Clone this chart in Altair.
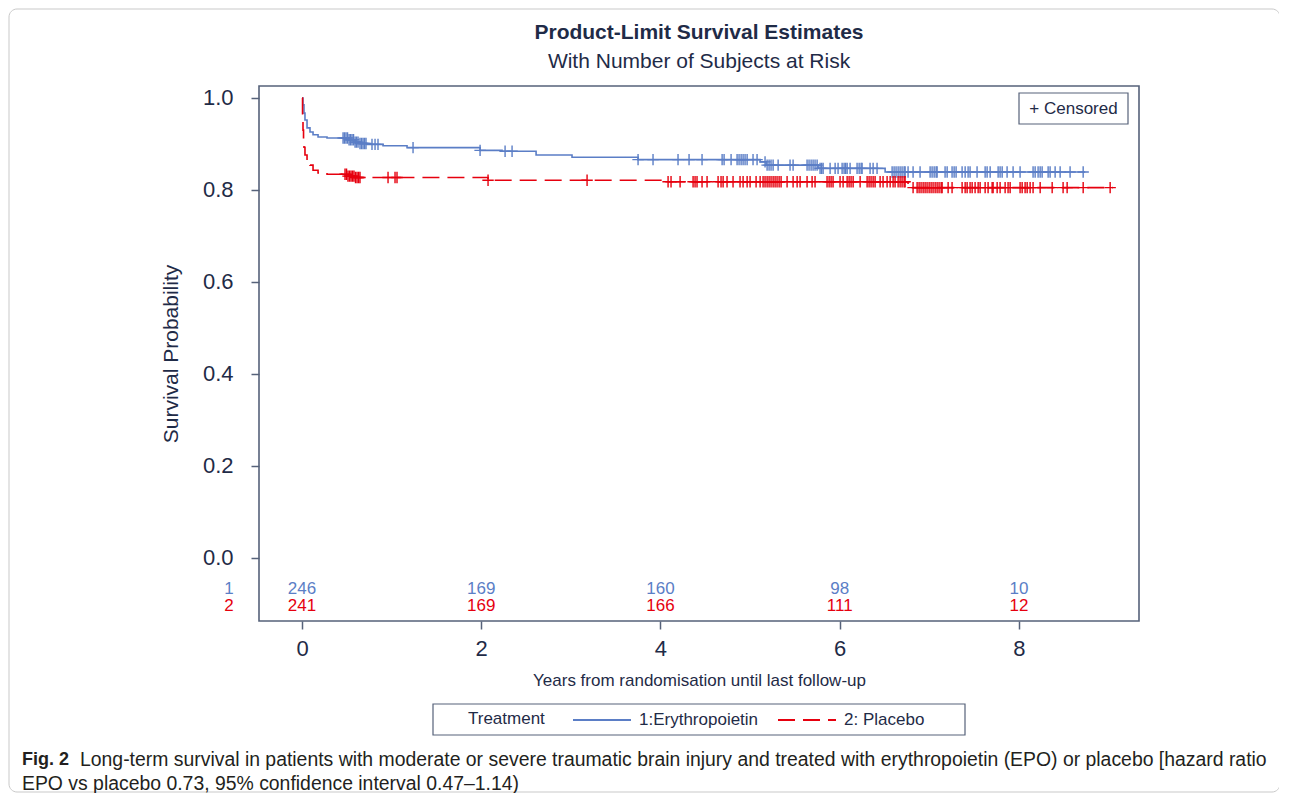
import altair as alt
import pandas as pd

FONT = "Liberation Sans"
NAVY = "#1f2b47"
FRAME = "#56627a"
BLUE = "#5b7ec6"
RED = "#e6000e"

arms = ["1:Erythropoietin", "2: Placebo"]

# Kaplan-Meier step estimates (years, survival probability)
epo_t = [0.0, 0.011, 0.022, 0.033, 0.056, 0.089, 0.123, 0.179, 0.279, 0.513, 0.592,
         0.647, 0.725, 0.904, 1.172, 1.987, 2.232, 2.612, 3.013, 3.750, 5.112, 5.179,
         5.759, 6.507]
epo_s = [1.0, 0.985, 0.967, 0.952, 0.935, 0.926, 0.920, 0.915, 0.913, 0.909, 0.904,
         0.901, 0.899, 0.896, 0.892, 0.886, 0.884, 0.876, 0.871, 0.866, 0.861, 0.854,
         0.847, 0.839]
epo_end = 8.74
epo_cens = [0.458, 0.474, 0.491, 0.508, 0.525, 0.541, 0.558, 0.575, 0.592, 0.608, 0.625,
            0.647, 0.664, 0.681, 0.698, 0.714, 0.781, 0.815, 0.848, 1.239, 1.987, 2.266,
            2.344, 3.750, 3.917, 4.196, 4.319, 4.464, 4.688, 4.710, 4.788, 4.855, 4.877,
            4.900, 4.922, 4.944, 4.967, 5.033, 5.078, 5.167, 5.190, 5.212, 5.234, 5.257,
            5.313, 5.446, 5.480, 5.636, 5.658, 5.681, 5.703, 5.725, 5.748, 5.781, 5.798,
            5.815, 5.893, 5.949, 5.982, 6.027, 6.049, 6.066, 6.083, 6.116, 6.194, 6.217,
            6.239, 6.250, 6.339, 6.373, 6.417, 6.585, 6.607, 6.629, 6.652, 6.674, 6.696,
            6.719, 6.730, 6.763, 6.819, 6.897, 7.009, 7.031, 7.054, 7.076, 7.087, 7.176,
            7.199, 7.254, 7.277, 7.299, 7.366, 7.400, 7.433, 7.455, 7.533, 7.623, 7.645,
            7.679, 7.768, 7.790, 7.813, 7.868, 7.935, 8.013, 8.158, 8.181, 8.214, 8.237,
            8.259, 8.326, 8.348, 8.404, 8.460, 8.571, 8.717]

pla_t = [0.0, 0.006, 0.011, 0.017, 0.022, 0.033, 0.056, 0.089, 0.123, 0.179, 0.279,
         0.513, 0.592, 2.076, 4.029, 6.763]
pla_s = [1.0, 0.963, 0.930, 0.909, 0.893, 0.876, 0.865, 0.854, 0.843, 0.837, 0.834,
         0.830, 0.827, 0.821, 0.818, 0.805]
pla_end = 9.05
pla_cens = [0.480, 0.497, 0.513, 0.530, 0.547, 0.564, 0.580, 0.597, 0.614, 0.631, 0.647,
            0.960, 1.038, 1.060, 2.076, 3.181, 4.085, 4.118, 4.219, 4.364, 4.386, 4.408,
            4.464, 4.520, 4.643, 4.676, 4.699, 4.743, 4.810, 4.888, 4.922, 4.967, 5.000,
            5.067, 5.112, 5.145, 5.167, 5.190, 5.212, 5.234, 5.257, 5.279, 5.301, 5.324,
            5.346, 5.413, 5.480, 5.525, 5.558, 5.636, 5.692, 5.725, 5.859, 5.882, 5.904,
            5.926, 6.004, 6.038, 6.083, 6.105, 6.127, 6.150, 6.228, 6.306, 6.328, 6.350,
            6.373, 6.395, 6.451, 6.484, 6.529, 6.563, 6.596, 6.618, 6.652, 6.674, 6.696,
            6.719, 6.730, 6.819, 6.864, 6.886, 6.908, 6.931, 6.953, 6.975, 6.998, 7.020,
            7.042, 7.065, 7.087, 7.109, 7.132, 7.143, 7.210, 7.254, 7.366, 7.400, 7.422,
            7.455, 7.478, 7.511, 7.545, 7.567, 7.623, 7.656, 7.701, 7.712, 7.757, 7.790,
            7.846, 7.879, 7.902, 8.013, 8.036, 8.069, 8.092, 8.125, 8.158, 8.237, 8.371,
            8.493, 8.538, 8.717, 9.018]

risk_times = [0, 2, 4, 6, 8]
epo_risk = [246, 169, 160, 98, 10]
pla_risk = [241, 169, 166, 111, 12]

title_text = "Product-Limit Survival Estimates"
subtitle_text = "With Number of Subjects at Risk"
legend_title = "Treatment"
caption_bold = "Fig. 2"
caption_line1 = ("Long-term survival in patients with moderate or severe traumatic brain injury "
                 "and treated with erythropoietin (EPO) or placebo [hazard ratio")
caption_line2 = "EPO vs placebo 0.73, 95% confidence interval 0.47\u20131.14)"


def step_rows(arm, ts, ss, end):
    rows = [{"arm": arm, "t": t, "s": s} for t, s in zip(ts, ss)]
    rows.append({"arm": arm, "t": end, "s": ss[-1]})
    return rows


def surv_at(ts, ss, c):
    val = ss[0]
    for t, s in zip(ts, ss):
        if t <= c:
            val = s
        else:
            break
    return val


line_df = pd.DataFrame(step_rows(arms[0], epo_t, epo_s, epo_end) +
                       step_rows(arms[1], pla_t, pla_s, pla_end))

cens_rows = [{"t": c, "s": surv_at(epo_t, epo_s, c), "col": BLUE} for c in epo_cens]
cens_rows += [{"t": c, "s": surv_at(pla_t, pla_s, c), "col": RED} for c in pla_cens]
cens_df = pd.DataFrame(cens_rows)

risk1 = pd.DataFrame({"t": risk_times, "n": [str(v) for v in epo_risk]})
risk2 = pd.DataFrame({"t": risk_times, "n": [str(v) for v in pla_risk]})
one = pd.DataFrame({"k": [0]})

W, H = 880, 535
xscale = alt.Scale(domain=[-0.48, 9.34], nice=False, zero=False)
yscale = alt.Scale(domain=[-0.137, 1.026], nice=False, zero=False)

xaxis = alt.Axis(values=risk_times, format="d", title="Years from randomisation until last follow-up",
                 labelFontSize=22, titleFontSize=17, labelPadding=9, titlePadding=13)
yaxis = alt.Axis(values=[0.0, 0.2, 0.4, 0.6, 0.8, 1.0], format=".1f", title="Survival Probability",
                 labelFontSize=22, titleFontSize=21, labelPadding=18, titlePadding=21)

leg = alt.Legend(title=None, orient="none", legendX=313, legendY=604,
                 direction="horizontal", padding=0,
                 symbolType="stroke", symbolSize=3364, symbolStrokeWidth=2,
                 labelFontSize=17, labelColor=NAVY, labelFont=FONT,
                 labelOffset=7, columnPadding=15)

lines = alt.Chart(line_df).mark_line(interpolate="step-after", strokeWidth=1.6).encode(
    x=alt.X("t:Q", scale=xscale, axis=xaxis),
    y=alt.Y("s:Q", scale=yscale, axis=yaxis),
    color=alt.Color("arm:N", scale=alt.Scale(domain=arms, range=[BLUE, RED]), legend=leg),
    strokeDash=alt.StrokeDash("arm:N", scale=alt.Scale(domain=arms, range=[[1, 0], [17, 8]]), legend=leg),
)

PLUS = "M-1,0L1,0M0,-1L0,1"
cens = alt.Chart(cens_df).mark_point(shape=PLUS, filled=False, size=130, strokeWidth=1.4, opacity=1).encode(
    x="t:Q", y="s:Q", color=alt.Color("col:N", scale=None))

risk_t1 = alt.Chart(risk1).mark_text(fontSize=17, font=FONT, color=BLUE).encode(
    x="t:Q", y=alt.value(503), text="n:N")
risk_t2 = alt.Chart(risk2).mark_text(fontSize=17, font=FONT, color=RED).encode(
    x="t:Q", y=alt.value(520), text="n:N")
row1 = alt.Chart(one).mark_text(fontSize=17, font=FONT, color=BLUE, text="1").encode(
    x=alt.value(-30), y=alt.value(503))
row2 = alt.Chart(one).mark_text(fontSize=17, font=FONT, color=RED, text="2").encode(
    x=alt.value(-30), y=alt.value(520))

title_m = alt.Chart(one).mark_text(fontSize=21, font=FONT, fontWeight="bold", color=NAVY,
                                   baseline="middle", text=title_text).encode(
    x=alt.value(440), y=alt.value(-53))
subtitle_m = alt.Chart(one).mark_text(fontSize=21, font=FONT, color=NAVY,
                                      baseline="middle", text=subtitle_text).encode(
    x=alt.value(440), y=alt.value(-24))

cens_box = alt.Chart(one).mark_rect(fill="white", stroke=FRAME, strokeWidth=1.2).encode(
    x=alt.value(760), x2=alt.value(869), y=alt.value(7), y2=alt.value(38))
cens_txt = alt.Chart(one).mark_text(fontSize=17, font=FONT, color=NAVY, text="+ Censored").encode(
    x=alt.value(814.5), y=alt.value(22.5))

leg_box = alt.Chart(one).mark_rect(fill=None, stroke=FRAME, strokeWidth=1.2).encode(
    x=alt.value(174), x2=alt.value(706), y=alt.value(618), y2=alt.value(649))
leg_title = alt.Chart(one).mark_text(fontSize=17, font=FONT, color=NAVY, align="left",
                                     baseline="middle", text=legend_title).encode(
    x=alt.value(209), y=alt.value(633))

outer = alt.Chart(one).mark_rect(fill=None, stroke="#c9c9c9", strokeWidth=1, cornerRadius=8).encode(
    x=alt.value(-250), x2=alt.value(1021), y=alt.value(-77), y2=alt.value(706))

cap_b = alt.Chart(one).mark_text(fontSize=18, font=FONT, fontWeight="bold", color="#231f20",
                                 align="left", baseline="middle", text=caption_bold).encode(
    x=alt.value(-237), y=alt.value(674))
cap_1 = alt.Chart(one).mark_text(fontSize=19.4, font=FONT, color="#231f20", align="left",
                                 baseline="middle", text=caption_line1).encode(
    x=alt.value(-179), y=alt.value(674))
cap_2 = alt.Chart(one).mark_text(fontSize=19.4, font=FONT, color="#231f20", align="left",
                                 baseline="middle", text=caption_line2).encode(
    x=alt.value(-237), y=alt.value(698))

chart = alt.layer(outer, lines, cens, risk_t1, risk_t2, row1, row2, title_m, subtitle_m,
                  cens_box, cens_txt, leg_box, leg_title, cap_b, cap_1, cap_2).properties(
    width=W, height=H,
    padding={"left": 251, "top": 78, "right": 140, "bottom": 172},
    autosize=alt.AutoSizeParams(type="none"),
).configure_view(stroke=FRAME, strokeWidth=1.6).configure_axis(
    grid=False, domain=False, tickColor=FRAME, tickWidth=1.5, tickSize=8,
    labelColor=NAVY, titleColor=NAVY, labelFont=FONT, titleFont=FONT,
    titleFontWeight="normal")

chart.save("out.html", embed_options={"renderer": "svg", "actions": False})
